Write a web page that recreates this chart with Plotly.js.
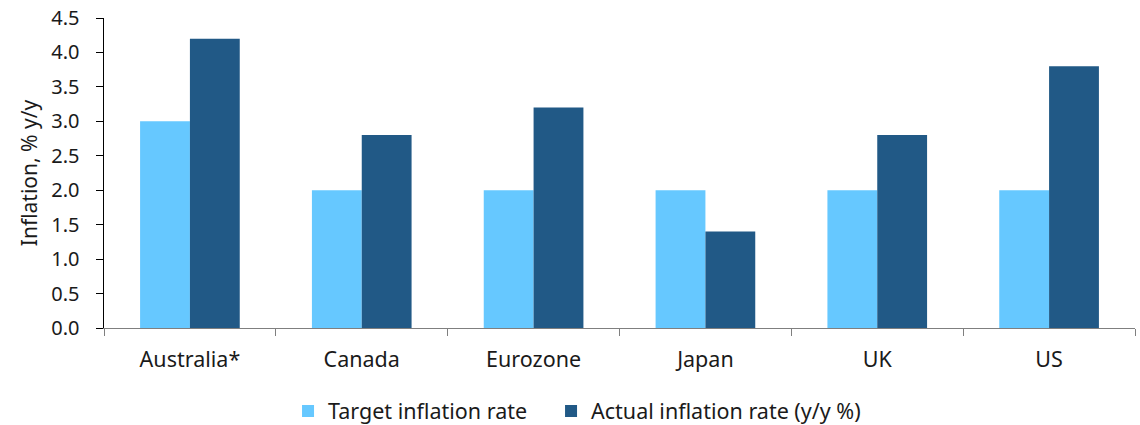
<!DOCTYPE html>
<html>
<head>
<meta charset="utf-8">
<script src="https://cdn.plot.ly/plotly-3.0.1.min.js"></script>
<style>html,body{margin:0;padding:0;background:#fff;}#chart{width:1140px;height:425px;}</style>
</head>
<body>
<div id="chart"></div>
<script>
const categories = ["Australia*", "Canada", "Eurozone", "Japan", "UK", "US"];
const targetRate = [3.0, 2.0, 2.0, 2.0, 2.0, 2.0];
const actualRate = [4.2, 2.8, 3.2, 1.4, 2.8, 3.8];
const seriesNames = ["Target inflation rate", "Actual inflation rate (y/y %)"];
const yTickVals = [0, 0.5, 1, 1.5, 2, 2.5, 3, 3.5, 4, 4.5];
const yTickText = ["0.0", "0.5", "1.0", "1.5", "2.0", "2.5", "3.0", "3.5", "4.0", "4.5"];

const font = {family: "Noto Sans, Open Sans, sans-serif", size: 20, color: "#1a1a1a"};

const data = [
  {type: "bar", name: seriesNames[0], x: categories, y: targetRate, marker: {color: "#66C8FF"}, legend: "legend"},
  {type: "bar", name: seriesNames[1], x: categories, y: actualRate, marker: {color: "#215986"}, legend: "legend2"}
];

const legendBase = {orientation: "h", xanchor: "left", y: -0.268, yanchor: "middle", font: {size: 21.5}, itemclick: false, bgcolor: "rgba(0,0,0,0)"};

const layout = {
  width: 1140, height: 425,
  margin: {l: 104, r: 5, t: 18, b: 97, autoexpand: false},
  paper_bgcolor: "#fff", plot_bgcolor: "#fff",
  font: font,
  barmode: "group", bargap: 0.42, bargroupgap: 0,
  showlegend: true,
  legend: Object.assign({}, legendBase, {x: 0.1785}),
  legend2: Object.assign({}, legendBase, {x: 0.4336}),
  xaxis: {
    type: "category", tickson: "boundaries", ticks: "outside", ticklen: 7, tickcolor: "#7f7f7f",
    showline: true, linecolor: "#7f7f7f", linewidth: 1, showgrid: false, zeroline: false,
    ticklabelstandoff: 12, tickfont: {size: 21.5}
  },
  yaxis: {
    range: [0, 4.5], tickvals: yTickVals, ticktext: yTickText, ticks: "outside", ticklen: 7,
    tickcolor: "#000", showline: true, linecolor: "#000", linewidth: 1.5, showgrid: false, zeroline: false,
    ticklabelstandoff: 12, tickfont: {size: 20},
    title: {text: "Inflation, % y/y", font: {size: 21}, standoff: 8}
  }
};

Plotly.newPlot("chart", data, layout, {displayModeBar: false, staticPlot: true});
</script>
</body>
</html>
